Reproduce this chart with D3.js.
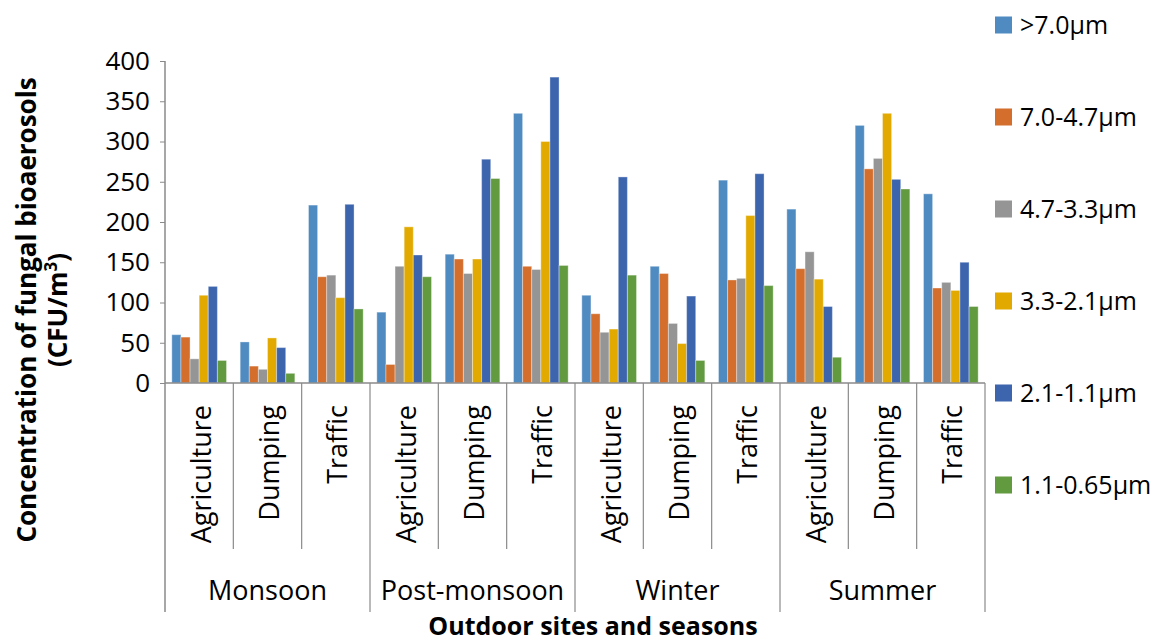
<!DOCTYPE html>
<html>
<head>
<meta charset="utf-8">
<script src="https://cdn.jsdelivr.net/npm/d3@7"></script>
<style>
  body { margin: 0; background: #fff; }
  text { font-family: "Open Sans", sans-serif; fill: #000; }
</style>
</head>
<body>
<div id="chart"></div>
<script>
const seasons = ["Monsoon", "Post-monsoon", "Winter", "Summer"]
const sites = ["Agriculture", "Dumping", "Traffic"]
const sizeClasses = [">7.0µm", "7.0-4.7µm", "4.7-3.3µm", "3.3-2.1µm", "2.1-1.1µm", "1.1-0.65µm"]
const yTicks = [0, 50, 100, 150, 200, 250, 300, 350, 400]

// one value per season/site, order: Monsoon Agri, Dump, Traffic, Post-monsoon ... Summer Traffic
const above70 = [60, 51, 221, 88, 160, 335, 109, 145, 252, 216, 320, 235]
const from70to47 = [57, 21, 132, 23, 154, 145, 86, 136, 128, 142, 266, 118]
const from47to33 = [30, 17, 134, 145, 136, 141, 63, 74, 130, 163, 279, 125]
const from33to21 = [109, 56, 106, 194, 154, 300, 67, 49, 208, 129, 335, 115]
const from21to11 = [120, 44, 222, 159, 278, 380, 256, 108, 260, 95, 253, 150]
const from11to065 = [28, 12, 92, 132, 254, 146, 134, 28, 121, 32, 241, 95]

const series = [above70, from70to47, from47to33, from33to21, from21to11, from11to065]
const colors = ["#4F8BC1", "#D46E2C", "#959595", "#E2AA00", "#3D65AE", "#629A40"]

const width = 1168
const height = 642
const plotLeft = 165, plotRight = 985, plotTop = 61, plotBottom = 383
const axisColor = "#8A8A8A"

const categories = []
seasons.forEach(s => sites.forEach(t => categories.push(s + "|" + t)))

const svg = d3.select("#chart")
    .append("svg")
    .attr("width", width)
    .attr("height", height)

const x0 = d3.scaleBand()
    .domain(categories)
    .range([plotLeft, plotRight])
    .padding(0)

const x1 = d3.scaleBand()
    .domain(d3.range(series.length))
    .range([0, x0.bandwidth()])
    .paddingInner(0)
    .paddingOuter(0.75)

const y = d3.scaleLinear()
    .domain([0, 400])
    .range([plotBottom, plotTop])

// y axis
const yAxis = svg.append("g")
    .attr("transform", `translate(${plotLeft}, 0)`)
    .call(d3.axisLeft(y).tickValues(yTicks).tickSize(5).tickPadding(10))
yAxis.select(".domain").remove()
yAxis.selectAll(".tick line").attr("stroke", axisColor)
yAxis.selectAll(".tick text")
    .style("font-size", "26px")
    .style("font-family", "'Open Sans', sans-serif")
    .attr("fill", "#000")

// bars
series.forEach((vals, i) => {
    svg.append("g")
        .selectAll("rect")
        .data(vals)
        .enter().append("rect")
        .attr("x", (d, j) => x0(categories[j]) + x1(i))
        .attr("y", d => y(d))
        .attr("width", x1.bandwidth())
        .attr("height", d => y(0) - y(d))
        .attr("fill", colors[i])
        .attr("stroke", "#ffffff")
        .attr("stroke-opacity", 0.35)
        .attr("stroke-width", 1)
})

// axis lines
svg.append("line")
    .attr("x1", plotLeft).attr("x2", plotLeft)
    .attr("y1", plotTop).attr("y2", 612)
    .attr("stroke", axisColor).attr("stroke-width", 1.5)
svg.append("line")
    .attr("x1", plotLeft).attr("x2", plotRight)
    .attr("y1", plotBottom).attr("y2", plotBottom)
    .attr("stroke", axisColor).attr("stroke-width", 1.5)

// category dividers (site level short, season level long)
categories.forEach((c, j) => {
    if (j === 0) return
    const isSeason = j % sites.length === 0
    svg.append("line")
        .attr("x1", x0(c)).attr("x2", x0(c))
        .attr("y1", plotBottom).attr("y2", isSeason ? 612 : 549)
        .attr("stroke", axisColor).attr("stroke-width", 1.2)
})
svg.append("line")
    .attr("x1", plotRight).attr("x2", plotRight)
    .attr("y1", plotBottom).attr("y2", 612)
    .attr("stroke", axisColor).attr("stroke-width", 1.2)

// site labels
svg.append("g")
    .selectAll("text")
    .data(categories)
    .enter().append("text")
    .attr("transform", d => `translate(${x0(d) + x0.bandwidth() / 2 + 2}, 405) rotate(-90)`)
    .attr("dy", "0.35em")
    .style("text-anchor", "end")
    .style("font-size", "27px")
    .text(d => d.split("|")[1])

// season labels
svg.append("g")
    .selectAll("text")
    .data(seasons)
    .enter().append("text")
    .attr("x", (d, i) => {
        const first = x0(categories[i * sites.length])
        return first + x0.bandwidth() * sites.length / 2
    })
    .attr("y", 600)
    .style("text-anchor", "middle")
    .style("font-size", "27px")
    .text(d => d)

// axis titles
svg.append("text")
    .attr("x", 593)
    .attr("y", 635)
    .style("text-anchor", "middle")
    .style("font-size", "25px")
    .style("font-weight", "bold")
    .text("Outdoor sites and seasons")

const yTitle = svg.append("text")
    .attr("transform", `translate(36, 310) rotate(-90)`)
    .style("text-anchor", "middle")
    .style("font-size", "26px")
    .style("font-weight", "bold")
yTitle.append("tspan")
    .attr("x", 0).attr("dy", 0)
    .text("Concentration of fungal bioaerosols")
const line2 = yTitle.append("tspan")
    .attr("x", 0).attr("dy", 31)
    .text("(CFU/m")
line2.append("tspan")
    .attr("dy", -10)
    .style("font-size", "17px")
    .text("3")
yTitle.append("tspan")
    .attr("dy", 10)
    .text(")")

// legend
const legend = svg.selectAll(".legend")
    .data(sizeClasses)
    .enter().append("g")
    .attr("class", "legend")
    .attr("transform", (d, i) => `translate(995, ${25 + i * 92})`)

legend.append("rect")
    .attr("x", 0).attr("y", -8.5)
    .attr("width", 17).attr("height", 17)
    .attr("fill", (d, i) => colors[i])

legend.append("text")
    .attr("x", 25)
    .attr("dy", "0.36em")
    .style("font-size", "25px")
    .text(d => d)
</script>
</body>
</html>
